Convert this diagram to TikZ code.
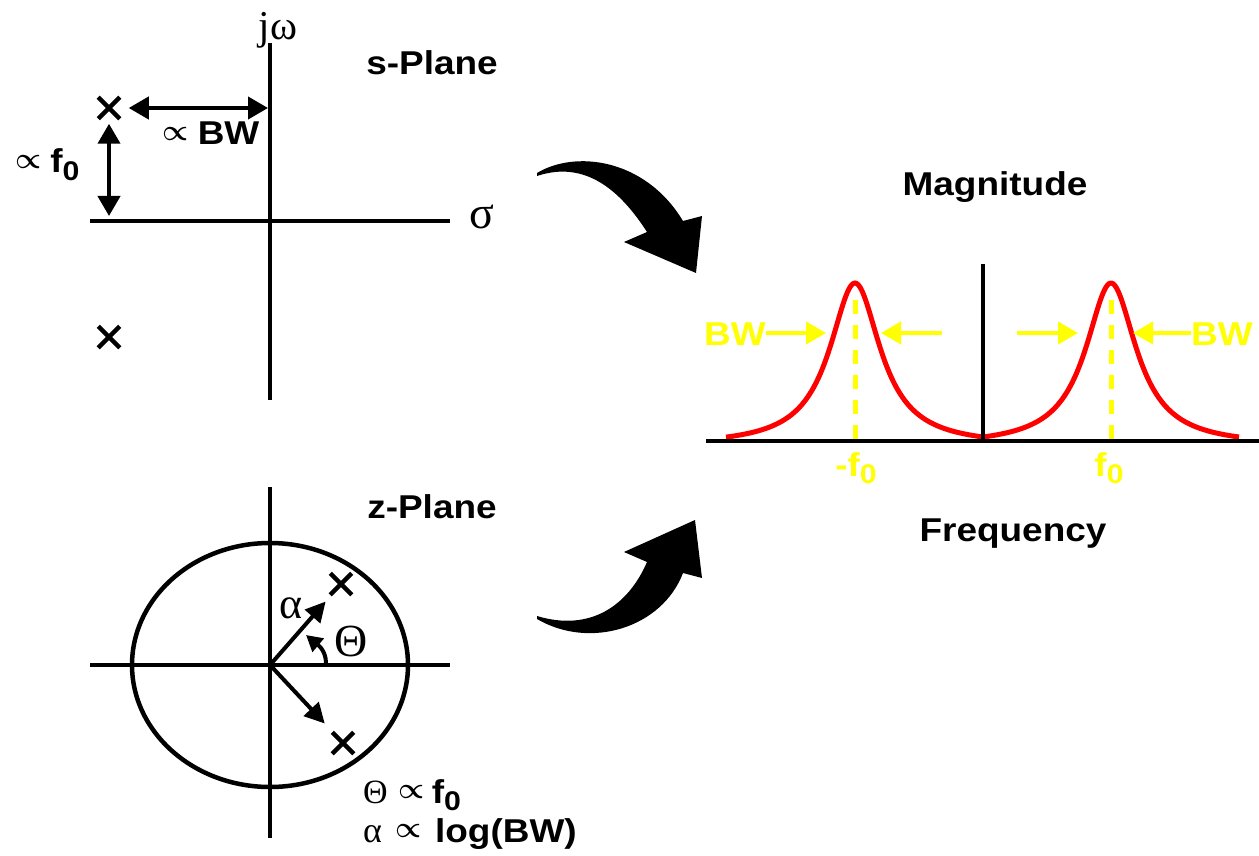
\documentclass[tikz,border=0pt]{standalone}
\usepackage{fontspec}
\usepackage{graphicx}
\setmainfont{Liberation Sans}
\newfontfamily\grk{Liberation Serif}
\usetikzlibrary{arrows.meta,shapes.misc}
\newcommand{\prp}{\raisebox{4.5pt}{\resizebox{26pt}{13pt}{\boldmath$\propto$}}}
\newcommand{\lowsub}[1]{\raisebox{-0.23em}{\fontsize{27}{27}\selectfont #1}}
\newcommand{\sx}[1]{\scalebox{1.12}[1]{#1}}
\definecolor{yel}{RGB}{255,255,0}
\definecolor{rd}{RGB}{255,0,0}
\begin{document}
\begin{tikzpicture}[x=1pt,y=-1pt,
  ax/.style={line width=4.5pt},
  pole/.style={cross out,draw,line width=4.5pt,minimum size=17pt,inner sep=0pt},
  lbl/.style={font=\fontsize{33}{36}\selectfont\bfseries,inner sep=0pt},
  ttl/.style={font=\fontsize{33}{36}\selectfont\bfseries,inner sep=0pt},
  grl/.style={font=\fontsize{46}{48}\selectfont\grk,inner sep=0pt},
  dbl/.style={line width=4pt,{Triangle[length=20pt,width=22pt]}-{Triangle[length=20pt,width=22pt]}},
  sarr/.style={line width=4pt,-{Triangle[length=20pt,width=20pt]}},
  yarr/.style={yel,line width=4pt,-{Triangle[length=20pt,width=22pt]}},
  ylbl/.style={lbl,text=yel},
  peak/.style={rd,line width=5pt},
  ydash/.style={yel,line width=5pt,dash pattern=on 14pt off 11pt},
  bigarrow/.style={fill=black,draw=none}
]
\useasboundingbox (0,0) rectangle (1259,856);

% ---------- s-plane ----------
\coordinate (sT) at (270,43);
\coordinate (sB) at (270,400);
\coordinate (sL) at (90,221);
\coordinate (sR) at (450,221);
\draw[ax] (sT) -- (sB);
\draw[ax] (sL) -- (sR);
\node[grl,font=\fontsize{41}{44}\selectfont\grk,anchor=base] (jw) at (278,40) {jω};
\node[grl,anchor=center] (sig) at (482,217) {σ};
\node[ttl] (stitle) at (432,63) {\sx{s-Plane}};
\node[pole] (p1) at (109,108) {};
\node[pole] (p2) at (109,337) {};
\coordinate (bwE) at (268,108);
\coordinate (f0E) at (109,216);
\draw[dbl,shorten <=9pt] (p1.east) -- (bwE);
\draw[dbl,shorten <=5pt] (p1.south) -- (f0E);
\node[lbl,anchor=base] (bwl) at (211,145) {\prp\ \sx{BW}};
\node[lbl,anchor=base west] (f0l) at (15,173) {\prp\ \sx{f\lowsub{0}}};

% ---------- big arrows ----------
\path[bigarrow] (537,173) .. controls (575,150) and (645,158) .. (683,221)
   -- (702,216) -- (696,273) -- (624,242) -- (647,232)
   .. controls (620,190) and (585,160) .. (537,176) -- cycle;
\path[bigarrow] (537,619) .. controls (590,650) and (662,628) .. (683,573)
   -- (702,578) -- (695,520) -- (624,552) -- (647,562)
   .. controls (628,606) and (590,632) .. (537,616) -- cycle;

% ---------- spectrum ----------
\node[ttl] (mag) at (995,187) {\sx{Magnitude}};
\node[ttl] (freq) at (1013,534) {\sx{Frequency}};
\coordinate (fL) at (706,441);
\coordinate (fR) at (1259,441);
\coordinate (fT) at (983,264);
\coordinate (fO) at (983,441);
\draw[peak,domain=-129:128,samples=200,variable=\t]
  plot ({855+\t},{437-154*((1/(1+(\t/31)*(\t/31)))-0.0554)/0.9446});
\draw[peak,domain=-128:128,samples=200,variable=\t]
  plot ({1111+\t},{437-154*((1/(1+(\t/31)*(\t/31)))-0.0554)/0.9446});
\draw[ax] (fL) -- (fR);
\draw[line width=4pt] (fT) -- (fO);
\coordinate (dA1) at (855,300);
\coordinate (dA2) at (855,440);
\coordinate (dB1) at (1111,300);
\coordinate (dB2) at (1111,440);
\draw[ydash] (dA1) -- (dA2);
\draw[ydash] (dB1) -- (dB2);
\node[ylbl,anchor=base] (mf0) at (856,476) {\sx{-f\lowsub{0}}};
\node[ylbl,anchor=base] (pf0) at (1109,476) {\sx{f\lowsub{0}}};
\node[ylbl,anchor=base] (bwA) at (735,345) {\sx{BW}};
\node[ylbl,anchor=base] (bwB) at (1222,345) {\sx{BW}};
\coordinate (a1) at (826,333);
\coordinate (a2s) at (942,333);
\coordinate (a2) at (881,333);
\coordinate (a3s) at (1017,333);
\coordinate (a3) at (1078,333);
\coordinate (a4) at (1133,333);
\draw[yarr] (bwA.east |- a1) -- (a1);
\draw[yarr] (a2s) -- (a2);
\draw[yarr] (a3s) -- (a3);
\draw[yarr] (bwB.west |- a4) -- (a4);

% ---------- z-plane ----------
\node[ttl] (ztitle) at (432,507) {\sx{z-Plane}};
\coordinate (zT) at (270,487);
\coordinate (zB) at (270,838);
\coordinate (zL) at (90,665);
\coordinate (zR) at (450,665);
\coordinate (zo) at (270,665);
\draw[ax] (zT) -- (zB);
\draw[ax] (zL) -- (zR);
\draw[ax] (zo) ellipse [x radius=138pt, y radius=122pt];
\node[pole] (q1) at (341,584) {};
\node[pole] (q2) at (343,743) {};
\draw[sarr,shorten >=9pt] (zo) -- (q1);
\draw[sarr,shorten >=12pt] (zo) -- (q2);
\node[grl,font=\fontsize{44}{48}\selectfont\grk] (al) at (291,608) {α};
\node[grl] (th) at (351,641) {Θ};
\coordinate (th1) at (326,663);
\coordinate (th2) at (306,635);
\draw[line width=4pt,-{Triangle[length=16pt,width=17pt]}] (th1) to[out=90,in=-40] (th2);
\node[lbl,anchor=base west] (eq1) at (363,803) {{\grk\mdseries\fontsize{34}{36}\selectfont Θ}\hspace{11pt}\prp\hspace{7pt}\sx{f\lowsub{0}}};
\node[lbl,anchor=base west] (eq2) at (363,842) {{\grk\mdseries\fontsize{36}{36}\selectfont α}\hspace{13pt}\prp\hspace{14pt}\sx{log(BW)}};
\end{tikzpicture}
\end{document}
